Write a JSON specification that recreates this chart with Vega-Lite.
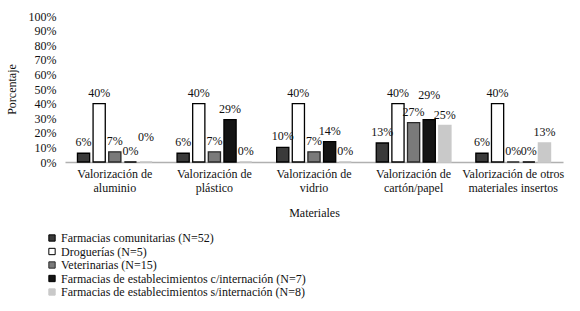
{
  "$schema": "https://vega.github.io/schema/vega-lite/v6.json",
  "autosize": "none",
  "width": 498,
  "height": 146,
  "padding": {"left": 65, "top": 16, "right": 17, "bottom": 149},
  "background": "white",
  "config": {
    "view": {"stroke": null},
    "font": "Liberation Serif",
    "text": {"font": "Liberation Serif"},
    "axis": {"labelFont": "Liberation Serif", "titleFont": "Liberation Serif", "labelColor": "#111", "titleColor": "#111"},
    "legend": {"labelFont": "Liberation Serif", "labelColor": "#111"}
  },
  "data": {
    "values": [
      {"material": "Valorización de aluminio", "tipo": "Farmacias comunitarias (N=52)", "pct": 0.06},
      {"material": "Valorización de aluminio", "tipo": "Droguerías (N=5)", "pct": 0.40},
      {"material": "Valorización de aluminio", "tipo": "Veterinarias (N=15)", "pct": 0.07},
      {"material": "Valorización de aluminio", "tipo": "Farmacias de establecimientos c/internación (N=7)", "pct": 0},
      {"material": "Valorización de aluminio", "tipo": "Farmacias de establecimientos s/internación (N=8)", "pct": 0},
      {"material": "Valorización de plástico", "tipo": "Farmacias comunitarias (N=52)", "pct": 0.06},
      {"material": "Valorización de plástico", "tipo": "Droguerías (N=5)", "pct": 0.40},
      {"material": "Valorización de plástico", "tipo": "Veterinarias (N=15)", "pct": 0.07},
      {"material": "Valorización de plástico", "tipo": "Farmacias de establecimientos c/internación (N=7)", "pct": 0.29},
      {"material": "Valorización de plástico", "tipo": "Farmacias de establecimientos s/internación (N=8)", "pct": 0},
      {"material": "Valorización de vidrio", "tipo": "Farmacias comunitarias (N=52)", "pct": 0.10},
      {"material": "Valorización de vidrio", "tipo": "Droguerías (N=5)", "pct": 0.40},
      {"material": "Valorización de vidrio", "tipo": "Veterinarias (N=15)", "pct": 0.07},
      {"material": "Valorización de vidrio", "tipo": "Farmacias de establecimientos c/internación (N=7)", "pct": 0.14},
      {"material": "Valorización de vidrio", "tipo": "Farmacias de establecimientos s/internación (N=8)", "pct": 0},
      {"material": "Valorización de cartón/papel", "tipo": "Farmacias comunitarias (N=52)", "pct": 0.13},
      {"material": "Valorización de cartón/papel", "tipo": "Droguerías (N=5)", "pct": 0.40},
      {"material": "Valorización de cartón/papel", "tipo": "Veterinarias (N=15)", "pct": 0.27},
      {"material": "Valorización de cartón/papel", "tipo": "Farmacias de establecimientos c/internación (N=7)", "pct": 0.29},
      {"material": "Valorización de cartón/papel", "tipo": "Farmacias de establecimientos s/internación (N=8)", "pct": 0.25},
      {"material": "Valorización de otros materiales insertos", "tipo": "Farmacias comunitarias (N=52)", "pct": 0.06},
      {"material": "Valorización de otros materiales insertos", "tipo": "Droguerías (N=5)", "pct": 0.40},
      {"material": "Valorización de otros materiales insertos", "tipo": "Veterinarias (N=15)", "pct": 0},
      {"material": "Valorización de otros materiales insertos", "tipo": "Farmacias de establecimientos c/internación (N=7)", "pct": 0},
      {"material": "Valorización de otros materiales insertos", "tipo": "Farmacias de establecimientos s/internación (N=8)", "pct": 0.13}
    ]
  },
  "encoding": {
    "x": {
      "field": "material",
      "type": "nominal",
      "sort": null,
      "scale": {"paddingInner": 0.25, "paddingOuter": 0.125},
      "axis": {
        "title": "Materiales",
        "titleFontSize": 12,
        "titleFontWeight": "normal",
        "titlePadding": 14,
        "labelAngle": 0,
        "labelFontSize": 12,
        "labelPadding": 6,
        "labelLineHeight": 14,
        "ticks": false,
        "domainColor": "#b0b0b0",
        "domainWidth": 1.5,
        "labelExpr": "datum.label == 'Valorización de otros materiales insertos' ? ['Valorización de otros', 'materiales insertos'] : ['Valorización de', replace(datum.label, 'Valorización de ', '')]"
      }
    },
    "xOffset": {
      "field": "tipo",
      "type": "nominal",
      "sort": null,
      "scale": {"paddingInner": 0.22, "paddingOuter": 0.0}
    },
    "y": {
      "field": "pct",
      "type": "quantitative",
      "scale": {"domain": [0, 1], "nice": false},
      "axis": {
        "title": "Porcentaje",
        "titleFontSize": 12,
        "titleFontWeight": "normal",
        "titlePadding": 10,
        "values": [0, 0.1, 0.2, 0.3, 0.4, 0.5, 0.6, 0.7, 0.8, 0.9, 1],
        "format": ".0%",
        "labelFontSize": 12,
        "labelPadding": 9,
        "domain": false,
        "ticks": false,
        "grid": false
      }
    }
  },
  "layer": [
    {
      "mark": {"type": "bar", "strokeWidth": 1.3},
      "encoding": {
        "color": {
          "field": "tipo",
          "type": "nominal",
          "sort": null,
          "scale": {
            "domain": ["Farmacias comunitarias (N=52)", "Droguerías (N=5)", "Veterinarias (N=15)", "Farmacias de establecimientos c/internación (N=7)", "Farmacias de establecimientos s/internación (N=8)"],
            "range": ["#3a3a3a", "#ffffff", "#7a7a7a", "#141414", "#c9c9c9"]
          },
          "legend": {
            "title": null,
            "orient": "none",
            "legendX": -19,
            "legendY": 216,
            "direction": "vertical",
            "symbolType": "square",
            "symbolSize": 40,
            "symbolStrokeWidth": 1,
            "labelFontSize": 12,
            "labelOffset": 3,
            "rowPadding": 1.5,
            "labelLimit": 400
          }
        },
        "stroke": {
          "field": "tipo",
          "type": "nominal",
          "sort": null,
          "scale": {
            "domain": ["Farmacias comunitarias (N=52)", "Droguerías (N=5)", "Veterinarias (N=15)", "Farmacias de establecimientos c/internación (N=7)", "Farmacias de establecimientos s/internación (N=8)"],
            "range": ["#000000", "#000000", "#2a2a2a", "#000000", "#c9c9c9"]
          },
          "legend": null
        }
      }
    },
    {
      "transform": [
        {"filter": "!((datum.material == 'Valorización de cartón/papel' && datum.tipo == 'Farmacias de establecimientos c/internación (N=7)') || (datum.material == 'Valorización de aluminio' && datum.tipo == 'Farmacias de establecimientos s/internación (N=8)'))"}
      ],
      "mark": {"type": "text", "baseline": "bottom", "dy": -4, "fontSize": 12, "color": "#111"},
      "encoding": {
        "text": {"field": "pct", "type": "quantitative", "format": ".0%"},
        "detail": {"field": "tipo"}
      }
    },
    {
      "transform": [
        {"filter": "(datum.material == 'Valorización de cartón/papel' && datum.tipo == 'Farmacias de establecimientos c/internación (N=7)') || (datum.material == 'Valorización de aluminio' && datum.tipo == 'Farmacias de establecimientos s/internación (N=8)')"}
      ],
      "mark": {"type": "text", "baseline": "bottom", "dy": -18, "fontSize": 12, "color": "#111"},
      "encoding": {
        "text": {"field": "pct", "type": "quantitative", "format": ".0%"},
        "detail": {"field": "tipo"}
      }
    }
  ]
}
